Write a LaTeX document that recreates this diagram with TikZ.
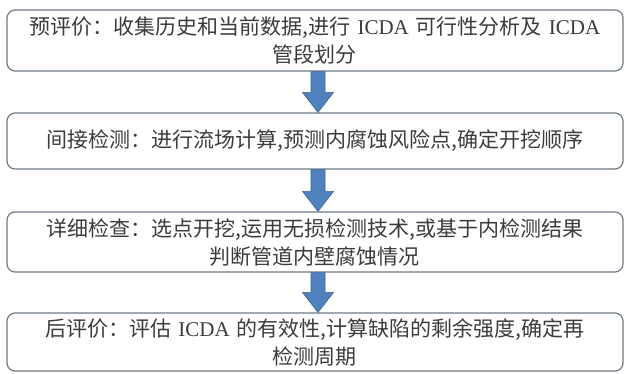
\documentclass[tikz,border=0pt]{standalone}
\usepackage{fontspec}
\setmainfont{Liberation Serif}
\newfontfamily\cjk{Noto Sans CJK SC}
\usetikzlibrary{calc}
\definecolor{boxline}{RGB}{112,122,134}
\definecolor{arrowblue}{RGB}{79,129,189}
\definecolor{arrowedge}{RGB}{60,100,150}
\definecolor{txtgrey}{RGB}{60,60,60}
\newcommand{\ic}{{\rmfamily ICDA}}
\tikzset{
  stage/.style={draw=boxline,line width=1.2pt,rounded corners=8pt,fill=white,
    minimum width=616pt,text width=590pt,align=center,text=txtgrey,
    font=\cjk\fontsize{21}{28}\selectfont,inner sep=0pt},
  downarrow/.style={fill=arrowblue,draw=arrowedge,line width=0.6pt,
    to path={let \p1=(\tikztostart),\p2=(\tikztotarget) in
      (\x1-7pt,\y1) -- (\x1+7pt,\y1) -- (\x1+7pt,\y2+20pt) -- (\x1+15.5pt,\y2+20pt)
      -- (\x1,\y2) -- (\x1-15.5pt,\y2+20pt) -- (\x1-7pt,\y2+20pt) -- cycle}}
}
\begin{document}
\begin{tikzpicture}[x=1pt,y=-1pt]
\useasboundingbox (0,0) rectangle (625,373);
\node[stage,minimum height=61pt] (pre) at (315,40.5) {预评价：收集历史和当前数据,进行 \ic{} 可行性分析及 \ic\\管段划分};
\node[stage,minimum height=56pt] (indirect) at (315,141) {间接检测：进行流场计算,预测内腐蚀风险点,确定开挖顺序};
\node[stage,minimum height=60pt] (detail) at (315,242) {详细检查：选点开挖,运用无损检测技术,或基于内检测结果\\判断管道内壁腐蚀情况};
\node[stage,minimum height=58pt] (post) at (315,342) {后评价：评估 \ic{} 的有效性,计算缺陷的剩余强度,确定再\\检测周期};
% blue block arrows between the stages
\draw[downarrow] ([xshift=3pt]pre.south) to ([xshift=3pt]indirect.north);
\draw[downarrow] ([xshift=3pt]indirect.south) to ([xshift=3pt]detail.north);
\draw[downarrow] ([xshift=3pt]detail.south) to ([xshift=3pt]post.north);
\end{tikzpicture}
\end{document}
